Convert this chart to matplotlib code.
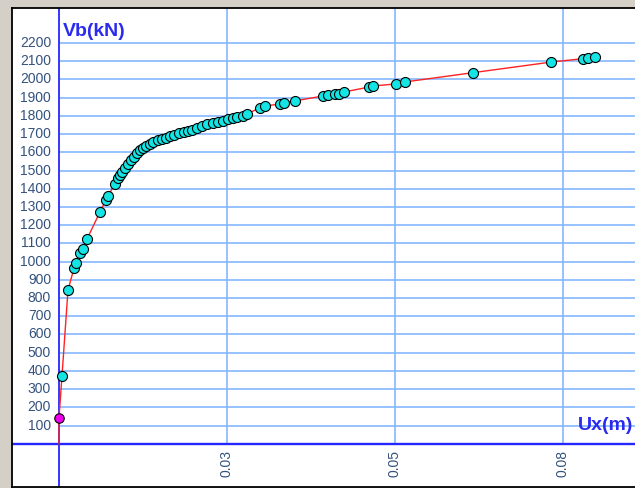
import matplotlib
matplotlib.use("Agg")
import matplotlib.pyplot as plt

# Pushover curve: base shear Vb (kN) vs roof displacement Ux (m)
ux = [0.0, 0.0, 0.00047, 0.00142, 0.00237, 0.00268, 0.00331, 0.00379, 0.00442,
      0.00647, 0.00741, 0.00773, 0.00883, 0.00931, 0.00962, 0.00994, 0.01041,
      0.01088, 0.01136, 0.01183, 0.01230, 0.01278, 0.01325, 0.01372, 0.01435,
      0.01483, 0.01562, 0.01625, 0.01688, 0.01751, 0.01814, 0.01893, 0.01972,
      0.02035, 0.02098, 0.02177, 0.02256, 0.02335, 0.02429, 0.02508, 0.02587,
      0.02666, 0.02745, 0.02808, 0.02902, 0.02966, 0.03171, 0.03249, 0.03486,
      0.03549, 0.03723, 0.04164, 0.04243, 0.04354, 0.04417, 0.04496, 0.04890,
      0.04953, 0.05316, 0.05458, 0.06530, 0.07761, 0.08266, 0.08345, 0.08455]
vb = [0, 142, 372, 844, 965, 993, 1047, 1069, 1124,
      1273, 1339, 1361, 1426, 1459, 1475, 1492, 1514,
      1536, 1558, 1574, 1596, 1613, 1624, 1634, 1645,
      1656, 1667, 1673, 1678, 1689, 1695, 1706, 1711,
      1717, 1722, 1733, 1744, 1755, 1760, 1766, 1771,
      1782, 1788, 1793, 1799, 1810, 1845, 1854, 1865,
      1871, 1882, 1909, 1914, 1920, 1922, 1931, 1958,
      1964, 1975, 1986, 2037, 2095, 2114, 2119, 2121]

y_ticks = list(range(100, 2300, 100))
x_ticks = [0.0265, 0.053, 0.0795]
x_tick_labels = ["0.03", "0.05", "0.08"]

BG = "#d4d0c8"
AXIS_BLUE = "#2626ff"
GRID_BLUE = "#84b8ff"
LABEL_COL = "#34527e"
TITLE_COL = "#2b2bf0"
FONT = "Liberation Sans"

W, H = 635, 488
fig = plt.figure(figsize=(W / 100, H / 100), dpi=100, facecolor=BG)

# white panel: x from 12 px to right edge, y from 8 px to 487 px
px_l, px_r, py_t, py_b = 12, 635, 8, 487
ax = fig.add_axes([px_l / W, (H - py_b) / H, (px_r - px_l) / W, (py_b - py_t) / H])
ax.set_facecolor("white")

xmin, xmax = -0.007414, 0.090858
ymin, ymax = -237.1, 2391.9
ax.set_xlim(xmin, xmax)
ax.set_ylim(ymin, ymax)
ax.set_xticks([])
ax.set_yticks([])
for side in ("left", "top", "bottom"):
    ax.spines[side].set_color("black")
    ax.spines[side].set_linewidth(1.3)
ax.spines["right"].set_visible(False)

# grid
ax.hlines(y_ticks, 0, xmax, colors=GRID_BLUE, lw=1.2, zorder=1)
ax.vlines(x_ticks, 0, ymax, colors=GRID_BLUE, lw=1.2, zorder=1)

# axes through the origin
ax.axhline(0, color=AXIS_BLUE, lw=1.7, zorder=2)
ax.axvline(0, color=AXIS_BLUE, lw=1.3, zorder=2)

# curve and markers
ax.plot(ux, vb, color="#ff2222", lw=1.0, zorder=3)
ax.plot(ux[2:], vb[2:], ls="none", marker="o", ms=7.2, mfc="#14e4e4",
        mec="black", mew=0.8, zorder=4)
ax.plot(ux[1:2], vb[1:2], ls="none", marker="o", ms=6.8, mfc="#ee00ee",
        mec="black", mew=0.8, zorder=5)

# tick labels
ytr = ax.get_yaxis_transform()
xl = (51 - px_l) / (px_r - px_l)
for v in y_ticks:
    ax.text(xl, v, str(v), transform=ytr, ha="right", va="center",
            fontsize=10, family=FONT, color=LABEL_COL)

xtr = ax.get_xaxis_transform()
yl = (py_b - 450) / (py_b - py_t)
for x, lab in zip(x_ticks, x_tick_labels):
    ax.text(x, yl, lab, transform=xtr, ha="center", va="top", rotation=90,
            fontsize=10, family=FONT, color=LABEL_COL)

# axis titles
ax.text(0.0006, (443.8 - 36) / 0.1822, "Vb(kN)", ha="left", va="baseline",
        fontsize=14, fontweight="bold", family=FONT, color=TITLE_COL)
ax.text((633 - px_l) / (px_r - px_l), (443.8 - 430) / 0.1822, "Ux(m)",
        transform=ytr, ha="right", va="baseline",
        fontsize=14, fontweight="bold", family=FONT, color=TITLE_COL)

fig.savefig("out.png", dpi=100, facecolor=BG)
